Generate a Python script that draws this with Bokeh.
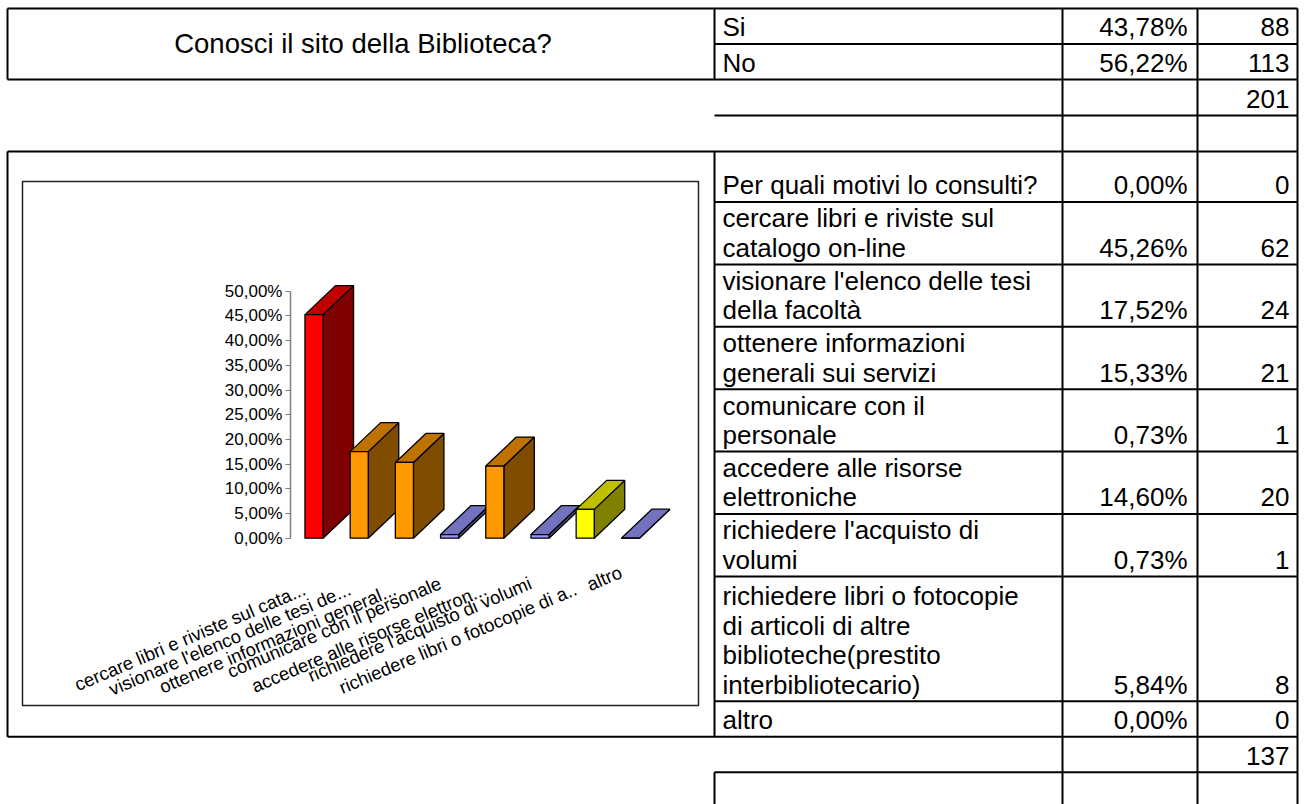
from bokeh.plotting import figure
from bokeh.models import Range1d, LinearAxis, FixedTicker, CustomJSTickFormatter
from bokeh.embed import file_html
from bokeh.resources import INLINE
from bokeh.core.properties import value
import math

# ---------------- data ----------------
q1_title = "Conosci il sito della Biblioteca?"
q1_answers = ["Si", "No"]
q1_pct = [43.78, 56.22]
q1_counts = [88, 113]
q1_total = 201

q2_title = "Per quali motivi lo consulti?"
q2_title_pct = 0.00
q2_title_count = 0
q2_answers = [
    "cercare libri e riviste sul\ncatalogo on-line",
    "visionare l'elenco delle tesi\ndella facoltà",
    "ottenere informazioni\ngenerali sui servizi",
    "comunicare con il\npersonale",
    "accedere alle risorse\nelettroniche",
    "richiedere l'acquisto di\nvolumi",
    "richiedere libri o fotocopie\ndi articoli di altre\nbiblioteche(prestito\ninterbibliotecario)",
    "altro",
]
q2_pct = [45.26, 17.52, 15.33, 0.73, 14.60, 0.73, 5.84, 0.00]
q2_counts = [62, 24, 21, 1, 20, 1, 8, 0]
q2_total = 137

axis_labels = [
    "cercare libri e riviste sul cata...",
    "visionare l'elenco delle tesi de...",
    "ottenere informazioni general...",
    "comunicare con il personale",
    "accedere alle risorse elettron...",
    "richiedere l'acquisto di volumi",
    "richiedere libri o fotocopie di a..",
    "altro",
]
y_ticks = [0, 5, 10, 15, 20, 25, 30, 35, 40, 45, 50]

bar_colors = ["#FF0000", "#FF9900", "#FF9900", "#9999FF",
              "#FF9900", "#9999FF", "#FFFF00", "#9999FF"]

# ---------------- layout ----------------
W, H = 1305, 804
FONT = "Liberation Sans"
TFS = 26
MID = 0.3465          # baseline offset of a "middle" anchored line, in em


def fmt_pct(v):
    return ("%.2f" % v).replace(".", ",") + "%"


def shade(hexc, f):
    r, g, b = (int(hexc[i:i + 2], 16) for i in (1, 3, 5))
    return "#%02X%02X%02X" % (int(r * f), int(g * f), int(b * f))


p = figure(width=W, height=H, x_range=Range1d(0, W), y_range=Range1d(H, 0),
           output_backend="svg", toolbar_location=None,
           x_axis_location=None, y_axis_location=None, min_border=0,
           outline_line_color=None, background_fill_color="white",
           border_fill_color="white")
p.xgrid.visible = False
p.ygrid.visible = False

# grid geometry of the sheet
XA, XB, XC, XD, XE = 7, 714, 1062, 1197, 1297
top_lines = [8, 43.5, 79, 115, 151]


def row_h(n):
    return 35.5 if n == 1 else 31.2 * n


rows_y = [151, 201.5]
for a in q2_answers:
    rows_y.append(rows_y[-1] + row_h(a.count("\n") + 1))
rows_y.append(rows_y[-1] + 35.5)   # total row
rows_y.append(rows_y[-1] + 35.5)   # empty row
Y_BOT = H + 10

sx0, sy0, sx1, sy1 = [], [], [], []


def seg(a, b, c, d):
    sx0.append(a); sy0.append(b); sx1.append(c); sy1.append(d)


seg(XA, 8, XE, 8)
seg(XB, 43.5, XE, 43.5)
seg(XA, 79, XE, 79)
seg(XB, 115, XE, 115)
seg(XA, 151, XE, 151)
for y in rows_y[1:-3]:
    seg(XB, y, XE, y)
seg(XA, rows_y[-3], XE, rows_y[-3])
seg(XB, rows_y[-2], XE, rows_y[-2])
seg(XA, 8, XA, 79)
seg(XA, 151, XA, rows_y[-3])
seg(XB, 8, XB, 79)
seg(XB, 151, XB, rows_y[-3])
seg(XB, rows_y[-2], XB, Y_BOT)
for x in (XC, XD, XE):
    seg(x, 8, x, Y_BOT)
p.segment(sx0, sy0, sx1, sy1, line_color="black", line_width=2)

# ---------------- texts of the sheet ----------------
lt_x, lt_y, lt_t = [], [], []
rp_x, rp_y, rp_t = [], [], []
PITCH = 29.5
PAD = 7.5
LX, PX, CX = 722, 1187, 1289
SHIFT = MID * TFS


def cell(bottom, label, pct_txt, cnt_txt):
    base = bottom - PAD - SHIFT
    lines = label.split("\n") if label else []
    for k, ln in enumerate(reversed(lines)):
        lt_x.append(LX); lt_y.append(base - k * PITCH); lt_t.append(ln)
    if pct_txt is not None:
        rp_x.append(PX); rp_y.append(base); rp_t.append(pct_txt)
    if cnt_txt is not None:
        rp_x.append(CX); rp_y.append(base); rp_t.append(cnt_txt)


for k in range(2):
    cell(top_lines[k + 1], q1_answers[k], fmt_pct(q1_pct[k]), str(q1_counts[k]))
cell(115, "", None, str(q1_total))
cell(rows_y[1], q2_title, fmt_pct(q2_title_pct), str(q2_title_count))
for k, a in enumerate(q2_answers):
    cell(rows_y[k + 2], a, fmt_pct(q2_pct[k]), str(q2_counts[k]))
cell(rows_y[-2], "", None, str(q2_total))

p.text(lt_x, lt_y, text=lt_t, text_font=value(FONT), text_font_size="%dpx" % TFS,
       text_align="left", text_baseline="middle", text_color="black")
p.text(rp_x, rp_y, text=rp_t, text_font=value(FONT), text_font_size="%dpx" % TFS,
       text_align="right", text_baseline="middle", text_color="black")
p.text([(XA + XB) / 2 + 2], [53 - MID * 27.5], text=[q1_title], text_font=value(FONT),
       text_font_size="27.5px", text_align="center", text_baseline="middle",
       text_color="black")

# ---------------- chart ----------------
p.quad(left=[22], right=[698], top=[181], bottom=[705], fill_color=None,
       line_color="#222222", line_width=1.5)

CX0, CSTEP = 313.5, 45.2
Y_ZERO, PX_PER_PCT = 537.7, 4.94
p.extra_x_ranges = {"cat": Range1d((0 - CX0) / CSTEP, (W - CX0) / CSTEP)}
p.extra_y_ranges = {"pct": Range1d((Y_ZERO - H) / PX_PER_PCT, Y_ZERO / PX_PER_PCT)}

HALF = 0.2
DX = 30.5 / CSTEP
DY = 29.0 / PX_PER_PCT
idx = list(range(len(q2_pct)))

side_xs = [[i + HALF, i + HALF + DX, i + HALF + DX, i + HALF] for i in idx]
side_ys = [[0, DY, v + DY, v] for v in q2_pct]
top_xs = [[i - HALF, i + HALF, i + HALF + DX, i - HALF + DX] for i in idx]
top_ys = [[v, v, v + DY, v + DY] for v in q2_pct]

p.patches(side_xs, side_ys, fill_color=[shade(c, 0.5) for c in bar_colors],
          line_color="black", line_width=1.3, x_range_name="cat", y_range_name="pct")
p.patches(top_xs, top_ys, fill_color=[shade(c, 0.75) for c in bar_colors],
          line_color="black", line_width=1.3, x_range_name="cat", y_range_name="pct")
p.quad(left=[i - HALF for i in idx], right=[i + HALF for i in idx],
       bottom=[0] * len(idx), top=q2_pct, fill_color=bar_colors,
       line_color="black", line_width=1.3, x_range_name="cat", y_range_name="pct")

yaxis = LinearAxis(y_range_name="pct", fixed_location=290, bounds=(0, 50),
                   ticker=FixedTicker(ticks=y_ticks),
                   formatter=CustomJSTickFormatter(code="return tick.toFixed(2).replace('.', ',') + '%';"),
                   axis_line_color="#808080", axis_line_width=1.5,
                   major_tick_line_color="#808080", major_tick_out=5, major_tick_in=0,
                   minor_tick_line_color=None,
                   major_label_text_font=FONT, major_label_text_font_size="17px",
                   major_label_text_color="black", major_label_standoff=3)
p.add_layout(yaxis, "left")

# category labels (rotated); truncated labels sit lower than complete ones
lab_x = [i - 0.3 for i in idx]
lab_y = [578 if lab.endswith(".") else (572 if len(lab) > 10 else 561)
         for lab in axis_labels]
p.text(lab_x, lab_y, text=axis_labels, x_range_name="cat",
       angle=math.radians(23), text_align="right", text_baseline="top",
       text_font=value(FONT), text_font_size="18.5px", text_color="black")

open("out.html", "w").write(file_html(p, INLINE))
